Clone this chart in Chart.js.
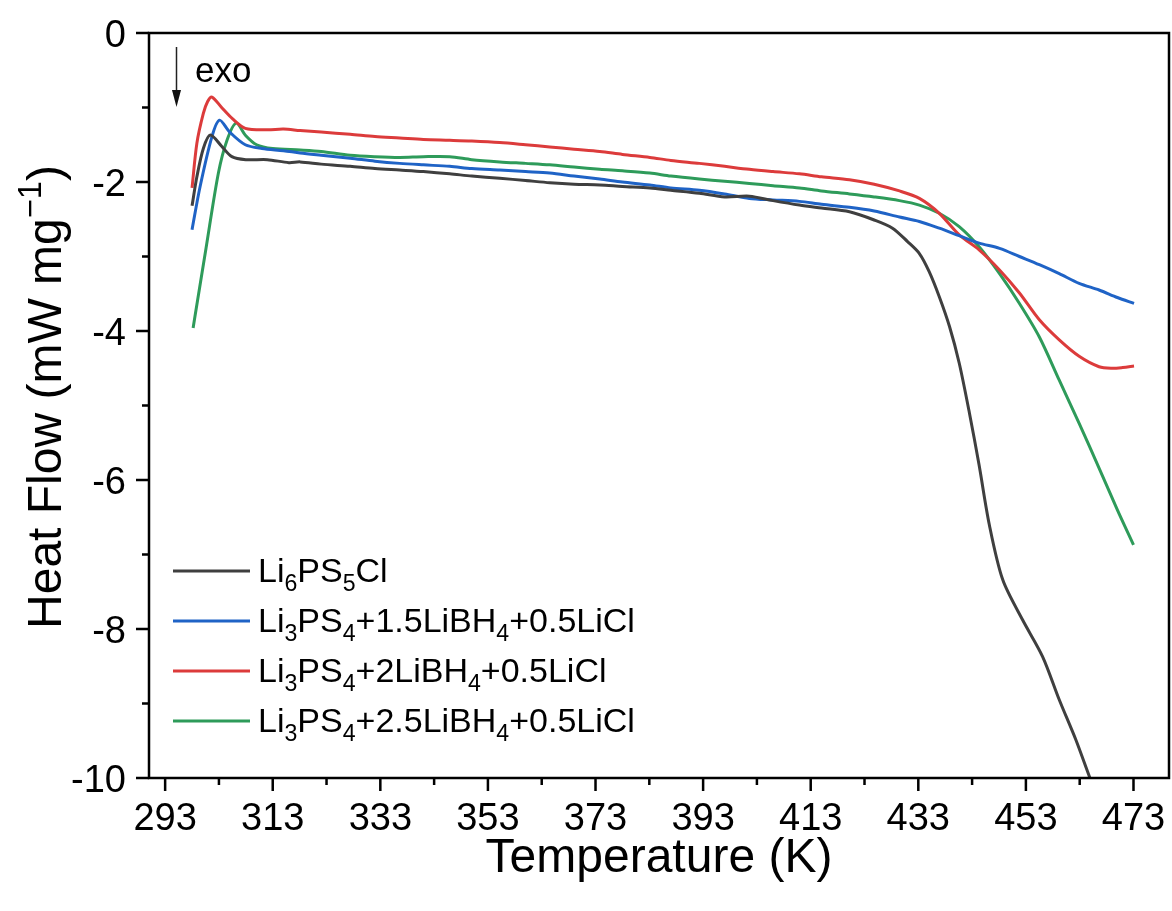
<!DOCTYPE html>
<html><head><meta charset="utf-8">
<script src="https://cdn.jsdelivr.net/npm/chart.js@4.4.0/dist/chart.umd.min.js"></script>
<style>html,body{margin:0;padding:0;background:#fff;}#wrap{width:1172px;height:911px;}</style>
</head><body><div id="wrap"><canvas id="c" width="1172" height="911"></canvas></div>
<script>
// ---------- data ----------
const xTickValues = [293,313,333,353,373,393,413,433,453,473];
const xMinorTickValues = [303,323,343,363,383,403,423,443,463];
const yTickValues = [0,-2,-4,-6,-8,-10];
const yMinorTickValues = [-1,-3,-5,-7,-9];

const seriesLabels = [
  "Li_{6}PS_{5}Cl",
  "Li_{3}PS_{4}+1.5LiBH_{4}+0.5LiCl",
  "Li_{3}PS_{4}+2LiBH_{4}+0.5LiCl",
  "Li_{3}PS_{4}+2.5LiBH_{4}+0.5LiCl"
];
const seriesColors = ["#3f3f3f","#1f63c6","#dc3b3b","#2e9b5a"];

const tempBlack = [298.0,298.9,300.1,301.4,303.5,305.4,308,312,316,318.1,322,327.4,332,336.6,341,345.9,350,355.2,360,364.5,369,373.8,378,383.1,387,392.3,397,401.6,406,410.9,415,420.2,424.8,428.2,431,433.2,435,436.9,438.8,440.6,442.5,444.3,446.2,448.7,452.4,456.1,459.2,462.3,464.8,466.5];
const hfBlack   = [-2.32,-1.93,-1.55,-1.37,-1.52,-1.66,-1.70,-1.70,-1.74,-1.73,-1.76,-1.79,-1.82,-1.84,-1.86,-1.89,-1.92,-1.95,-1.98,-2.01,-2.03,-2.04,-2.06,-2.08,-2.11,-2.15,-2.20,-2.19,-2.25,-2.31,-2.35,-2.40,-2.51,-2.62,-2.80,-2.96,-3.20,-3.54,-3.94,-4.43,-5.10,-5.80,-6.60,-7.34,-7.88,-8.37,-8.95,-9.49,-9.98,-10.3];

const tempBlue = [298.0,299.5,301.7,303.1,305,307.9,311,315,318.1,322,327.4,332,336.6,341,345.9,350,355.2,360,364.5,369,373.8,378,383.1,387,392.3,397,401.6,406,410.9,415,420.2,424.8,429.5,433.2,436.9,440.6,444.3,448.1,451.8,455.5,459.2,462.9,466.6,470,473.1];
const hfBlue   = [-2.64,-2.06,-1.39,-1.17,-1.33,-1.50,-1.55,-1.58,-1.61,-1.64,-1.68,-1.72,-1.75,-1.77,-1.79,-1.82,-1.84,-1.86,-1.88,-1.92,-1.96,-2.00,-2.04,-2.08,-2.11,-2.16,-2.22,-2.24,-2.26,-2.30,-2.34,-2.39,-2.47,-2.53,-2.62,-2.72,-2.82,-2.89,-3.00,-3.11,-3.23,-3.36,-3.45,-3.55,-3.63];

const tempRed = [298.0,298.9,300.1,300.9,301.7,303.5,305.5,307.9,312,315,318.1,322,327.4,332,336.6,341,345.9,350,355.2,360,364.5,369,373.8,378,383.1,387,392.3,397,401.6,406,410.9,415,420.2,424.8,429.5,433.2,436.9,440.6,444.3,448.1,451.8,455.5,459.2,462.9,466.6,469.0,471,473.1];
const hfRed   = [-2.08,-1.48,-1.08,-0.92,-0.86,-1.00,-1.15,-1.28,-1.30,-1.29,-1.31,-1.33,-1.36,-1.39,-1.41,-1.43,-1.44,-1.45,-1.47,-1.50,-1.53,-1.56,-1.59,-1.63,-1.67,-1.71,-1.75,-1.79,-1.83,-1.86,-1.89,-1.93,-1.97,-2.03,-2.12,-2.22,-2.42,-2.71,-2.91,-3.18,-3.49,-3.85,-4.12,-4.34,-4.48,-4.50,-4.49,-4.47];

const tempGreen = [298.2,299,300.6,302.9,304.5,306.2,308,310,313,318.1,322,327.4,332,336.6,341,345.9,350,355.2,360,364.5,369,373.8,378,383.1,387,392.3,397,401.6,406,410.9,415,420.2,424.8,429.5,433.2,436.9,440.6,444.3,448.1,451.8,455.5,459.2,462.9,466.6,470,473.0];
const hfGreen   = [-3.96,-3.60,-2.89,-1.88,-1.44,-1.21,-1.38,-1.50,-1.55,-1.57,-1.59,-1.64,-1.66,-1.67,-1.66,-1.66,-1.70,-1.73,-1.75,-1.77,-1.80,-1.83,-1.85,-1.88,-1.92,-1.96,-1.99,-2.02,-2.05,-2.08,-2.12,-2.16,-2.20,-2.25,-2.31,-2.42,-2.60,-2.87,-3.23,-3.63,-4.08,-4.66,-5.24,-5.84,-6.40,-6.87];

const xTitle = "Temperature (K)";
const yTitle = "Heat Flow (mW mg^{\u22121})";
const annotationText = "exo";

// ---------- helpers ----------
const FONT = '"Liberation Sans", Arial, Helvetica, sans-serif';
function toXY(xs, ys){ return xs.map((v,i)=>({x:v, y:ys[i]})); }
function parseRich(s){
  const out=[]; const re=/([_^])\{([^}]*)\}/g; let last=0, m;
  while((m=re.exec(s))){ if(m.index>last) out.push({t:s.slice(last,m.index),k:'n'}); out.push({t:m[2],k:m[1]==='_'?'sub':'sup'}); last=re.lastIndex; }
  if(last<s.length) out.push({t:s.slice(last),k:'n'});
  return out;
}
const SUBSCALE = 0.68;
function richWidth(ctx, segs, size){
  let w=0;
  segs.forEach(sg=>{ const fs = sg.k==='n'?size:size*SUBSCALE; ctx.font = fs+'px '+FONT; w+=ctx.measureText(sg.t).width; });
  return w;
}
function drawRich(ctx, segs, x, y, size){
  ctx.textAlign='left'; ctx.textBaseline='alphabetic';
  segs.forEach(sg=>{
    const fs = sg.k==='n'?size:size*SUBSCALE;
    const dy = sg.k==='sub'? size*0.25 : (sg.k==='sup'? -size*0.42 : 0);
    ctx.font = fs+'px '+FONT;
    ctx.fillText(sg.t, x, y+dy);
    x += ctx.measureText(sg.t).width;
  });
}

const datasets = [
  {data: toXY(tempBlack,hfBlack)},
  {data: toXY(tempBlue,hfBlue)},
  {data: toXY(tempRed,hfRed)},
  {data: toXY(tempGreen,hfGreen)}
].map((d,i)=>Object.assign(d,{label:seriesLabels[i].replace(/[_^]\{([^}]*)\}/g,'$1'), borderColor:seriesColors[i], borderWidth:3, pointRadius:0, tension:0.3, fill:false}));

const decor = {
  id:'decor',
  afterDraw(chart){
    const {ctx, chartArea:a, scales:{x, y}} = chart;
    ctx.save();
    ctx.strokeStyle='#000'; ctx.lineWidth=2.5; ctx.lineCap='butt';
    ctx.strokeRect(a.left, a.top, a.right-a.left, a.bottom-a.top);
    ctx.beginPath();
    xTickValues.forEach(v=>{const p=x.getPixelForValue(v); ctx.moveTo(p,a.bottom); ctx.lineTo(p,a.bottom+13);});
    xMinorTickValues.forEach(v=>{const p=x.getPixelForValue(v); ctx.moveTo(p,a.bottom); ctx.lineTo(p,a.bottom+7);});
    yTickValues.forEach(v=>{const p=y.getPixelForValue(v); ctx.moveTo(a.left,p); ctx.lineTo(a.left-13,p);});
    yMinorTickValues.forEach(v=>{const p=y.getPixelForValue(v); ctx.moveTo(a.left,p); ctx.lineTo(a.left-7,p);});
    ctx.stroke();

    // tick labels
    ctx.fillStyle='#000';
    ctx.font='38px '+FONT; ctx.textBaseline='alphabetic';
    ctx.textAlign='center';
    xTickValues.forEach(v=>{ ctx.fillText(String(v), x.getPixelForValue(v), a.bottom+52); });
    ctx.textAlign='right';
    yTickValues.forEach(v=>{ ctx.fillText(String(v), a.left-23, y.getPixelForValue(v)+13.5); });

    // legend
    const lsize = 34;
    seriesLabels.forEach((lab,i)=>{
      const base = 582 + i*50;
      ctx.strokeStyle = seriesColors[i]; ctx.lineWidth=3;
      ctx.beginPath(); ctx.moveTo(173, base-11); ctx.lineTo(250, base-11); ctx.stroke();
      ctx.fillStyle='#000';
      drawRich(ctx, parseRich(lab), 258, base, lsize);
    });

    // x title
    ctx.fillStyle='#000';
    ctx.font = '48px '+FONT; ctx.textAlign='center'; ctx.textBaseline='alphabetic';
    ctx.fillText(xTitle, (a.left+a.right)/2, 872);

    // y title
    const ys = parseRich(yTitle);
    const w = richWidth(ctx, ys, 48);
    ctx.save();
    ctx.translate(61, 397);
    ctx.rotate(-Math.PI/2);
    drawRich(ctx, ys, -w/2, 0, 48);
    ctx.restore();

    // exo annotation
    ctx.fillStyle='#000';
    ctx.font='35px '+FONT; ctx.textAlign='left'; ctx.textBaseline='alphabetic';
    ctx.fillText(annotationText, 195, 82);
    ctx.strokeStyle='#222'; ctx.lineWidth=1.5;
    ctx.beginPath(); ctx.moveTo(176.5,47); ctx.lineTo(176.5,95); ctx.stroke();
    ctx.fillStyle='#111';
    ctx.beginPath(); ctx.moveTo(172,90); ctx.lineTo(181,90); ctx.lineTo(176.5,107); ctx.closePath(); ctx.fill();
    ctx.restore();
  }
};

new Chart(document.getElementById('c'), {
  type:'line',
  data:{datasets},
  options:{
    responsive:false, animation:false, devicePixelRatio:1,
    layout:{padding:{left:0, top:33, right:3, bottom:0}},
    plugins:{legend:{display:false}, tooltip:{enabled:false}},
    scales:{
      x:{type:'linear', min:290, max:479.6,
        grid:{display:false, drawTicks:false}, border:{display:false},
        afterBuildTicks:(s)=>{ s.ticks = xTickValues.map(v=>({value:v})); },
        afterFit:(s)=>{ s.height = 133; },
        ticks:{display:false}
      },
      y:{type:'linear', min:-10, max:0,
        grid:{display:false, drawTicks:false}, border:{display:false},
        afterBuildTicks:(s)=>{ s.ticks = yTickValues.map(v=>({value:v})); },
        afterFit:(s)=>{ s.width = 149; },
        ticks:{display:false}
      }
    }
  },
  plugins:[decor]
});
</script></body></html>
